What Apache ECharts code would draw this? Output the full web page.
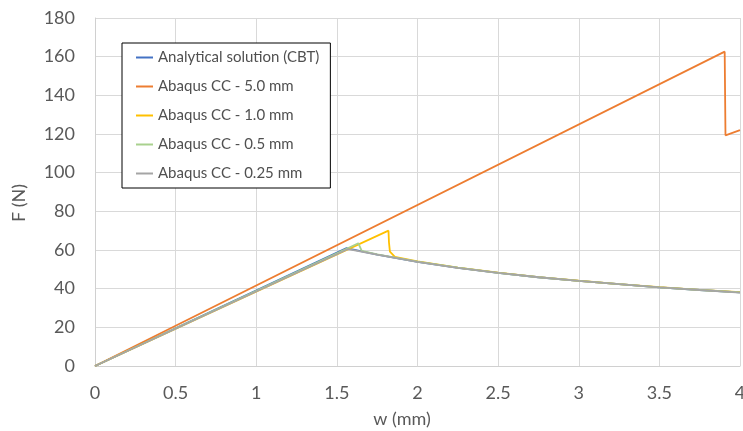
<!DOCTYPE html>
<html>
<head>
<meta charset="utf-8">
<script src="https://cdn.jsdelivr.net/npm/echarts@6/dist/echarts.min.js"></script>
<style>
html,body{margin:0;padding:0;background:#fff;overflow:hidden;}
#chart{width:743px;height:431px;}
</style>
</head>
<body>
<div id="chart"></div>
<script>
// Series names
var seriesNames = [
  'Analytical solution (CBT)',
  'Abaqus CC - 5.0 mm',
  'Abaqus CC - 1.0 mm',
  'Abaqus CC - 0.5 mm',
  'Abaqus CC - 0.25 mm'
];

// Analytical solution (CBT)
var wCBT = [0, 1.56, 1.75, 2, 2.25, 2.5, 2.75, 3, 3.25, 3.5, 3.75, 4];
var fCBT = [0, 61.0, 57.6, 53.9, 50.8, 48.2, 45.9, 44.0, 42.3, 40.7, 39.3, 38.1];

// Abaqus CC - 5.0 mm
var w50 = [0, 3.905, 3.91, 4];
var f50 = [0, 162.6, 119.3, 122.0];

// Abaqus CC - 1.0 mm
var w10 = [0, 1.82, 1.823, 1.829, 1.86, 2, 2.25, 2.5, 2.75, 3, 3.25, 3.5, 3.75, 4];
var f10 = [0, 70.0, 64.0, 59.1, 56.5, 54.1, 50.9, 48.3, 46.0, 44.1, 42.4, 40.8, 39.4, 38.2];

// Abaqus CC - 0.5 mm
var w05 = [0, 1.633, 1.654, 1.75, 2, 2.25, 2.5, 2.75, 3, 3.25, 3.5, 3.75, 4];
var f05 = [0, 63.5, 59.6, 57.7, 54.0, 50.9, 48.2, 45.9, 44.0, 42.3, 40.7, 39.3, 38.1];

// Abaqus CC - 0.25 mm
var w025 = [0, 1.57, 1.75, 2, 2.25, 2.5, 2.75, 3, 3.25, 3.5, 3.75, 4];
var f025 = [0, 60.5, 57.6, 53.9, 50.8, 48.2, 45.9, 44.0, 42.3, 40.7, 39.3, 38.0];

// Axis ticks
var xMin = 0, xMax = 4, xStep = 0.5;
var yMin = 0, yMax = 180, yStep = 20;

var colors = ['#4472C4', '#ED7D31', '#FFC000', '#A9D18E', '#A5A5A5'];
var fontFam = 'Lato, Open Sans, sans-serif';

function pairs(ws, fs) {
  return ws.map(function (w, i) { return [w, fs[i]]; });
}
var allData = [pairs(wCBT, fCBT), pairs(w50, f50), pairs(w10, f10), pairs(w05, f05), pairs(w025, f025)];

var chart = echarts.init(document.getElementById('chart'), null, {renderer: 'canvas', width: 743, height: 431});
chart.setOption({
  animation: false,
  backgroundColor: '#fff',
  color: colors,
  grid: {left: 95, right: 3, top: 18, bottom: 65, containLabel: false, outerBoundsMode: 'none'},
  xAxis: {
    type: 'value', min: xMin, max: xMax, interval: xStep,
    axisLine: {show: true, lineStyle: {color: '#d0d0d0', width: 1}},
    axisTick: {show: false},
    axisLabel: {color: '#595959', fontSize: 18, fontFamily: fontFam, margin: 18},
    splitLine: {show: true, lineStyle: {color: '#d9d9d9', width: 1}}
  },
  yAxis: {
    type: 'value', min: yMin, max: yMax, interval: yStep,
    axisLine: {show: true, lineStyle: {color: '#d0d0d0', width: 1}},
    axisTick: {show: false},
    axisLabel: {color: '#595959', fontSize: 18, fontFamily: fontFam, margin: 20},
    splitLine: {show: true, lineStyle: {color: '#d9d9d9', width: 1}}
  },
  legend: {
    orient: 'vertical',
    left: 122, top: 43,
    icon: 'rect',
    itemWidth: 17, itemHeight: 2,
    itemGap: 12,
    padding: [6, 11, 6, 14],
    borderColor: '#000', borderWidth: 1,
    backgroundColor: '#fff',
    textStyle: {color: '#505050', fontSize: 15, fontFamily: fontFam, lineHeight: 17},
    data: seriesNames
  },
  graphic: [
    {type: 'text', x: 402, y: 419, style: {text: 'w (mm)', fill: '#595959', font: '18px ' + fontFam, textAlign: 'center', textVerticalAlign: 'middle'}},
    {type: 'text', rotation: Math.PI / 2, x: 19, y: 203, style: {text: 'F (N)', fill: '#595959', font: '18px ' + fontFam, textAlign: 'center', textVerticalAlign: 'middle'}}
  ],
  series: seriesNames.map(function (name, i) {
    return {
      name: name, type: 'line', data: allData[i],
      showSymbol: false, symbol: 'none',
      lineStyle: {color: colors[i], width: 1.8},
      itemStyle: {color: colors[i]},
      z: 2 + i
    };
  })
});
</script>
</body>
</html>
